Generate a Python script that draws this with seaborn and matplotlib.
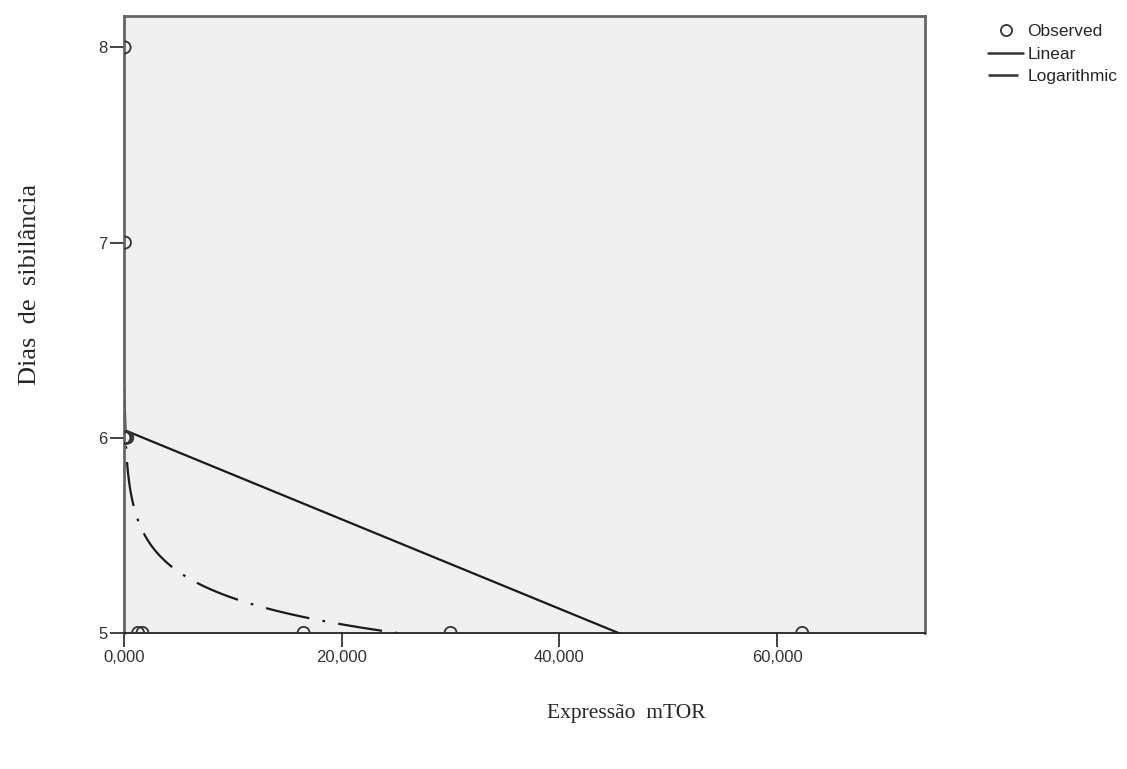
import numpy as np
import pandas as pd
import seaborn as sns
import matplotlib.pyplot as plt
from matplotlib.lines import Line2D

# observed points (Expressão mTOR, Dias de sibilância)
obs_x = [60, 90, 40, 150, 300, 1300, 1700, 16500, 30000, 62300]
obs_y = [8, 7, 6, 6, 6, 5, 5, 5, 5, 5]

# fitted models
lin_coef = [6.04, -1.04 / 45400]       # y = a + b*x
log_coef = [6.971, -0.1946]            # y = a + b*ln(x)

x_ticks = [0, 20000, 40000, 60000]
x_tick_labels = ['0,000', '20,000', '40,000', '60,000']
y_ticks = [5, 6, 7, 8]

sns.set_style('white')
plt.rcParams['font.family'] = ['Liberation Sans', 'DejaVu Sans']

df = pd.DataFrame({'x': obs_x, 'y': obs_y})
xs = np.linspace(min(obs_x), max(obs_x), 600)
fit_df = pd.DataFrame({
    'x': xs,
    'lin': lin_coef[0] + lin_coef[1] * xs,
    'log': log_coef[0] + log_coef[1] * np.log(xs),
})

fig = plt.figure(figsize=(11.27, 7.69), dpi=100)
ax = fig.add_axes([0.110, 0.177, 0.711, 0.802])
ax.set_facecolor('#f0f0f0')

dash_dot = (0, (20, 6, 1.2, 6))
sns.lineplot(data=fit_df, x='x', y='lin', ax=ax, color='#1a1a1a', lw=1.6)
sns.lineplot(data=fit_df, x='x', y='log', ax=ax, color='#1a1a1a', lw=1.6,
             dashes=False, linestyle=dash_dot)
sns.scatterplot(data=df, x='x', y='y', ax=ax, marker='o', s=75,
                facecolor='none', edgecolor='#333333', linewidth=1.3, zorder=5)

ax.set_xlim(0, 73600)
ax.set_ylim(5, 8.16)
ax.set_xticks(x_ticks)
ax.set_xticklabels(x_tick_labels)
ax.set_yticks(y_ticks)
ax.tick_params(axis='both', bottom=True, left=True, direction='out', length=10,
               width=1.3, color='#333333', labelsize=12, labelcolor='#333333', pad=2)
for s in ax.spines.values():
    s.set_color('#666666')
    s.set_linewidth(2)
ax.spines['bottom'].set_color('#222222')
ax.spines['bottom'].set_linewidth(1.3)

ax.set_xlabel('Expressão  mTOR', family='Liberation Serif', fontsize=15.5)
ax.set_ylabel('Dias  de  sibilância', family='Liberation Serif', fontsize=19)
ax.xaxis.set_label_coords(0.627, -0.115)
ax.yaxis.set_label_coords(-0.104, 0.565)

handles = [
    Line2D([], [], marker='o', ls='none', mfc='none', mec='#333333', mew=1.3, ms=8),
    Line2D([], [], color='#333333', lw=1.8),
    Line2D([], [], color='#333333', lw=1.8, linestyle=(0, (12, 3, 1, 3))),
]
ax.legend(handles, ['Observed', 'Linear', 'Logarithmic'], loc='upper left',
          bbox_to_anchor=(1.07, 0.998), frameon=False, fontsize=12.5,
          handlelength=2.0, handletextpad=0.25, labelspacing=0.42,
          borderaxespad=0)

plt.savefig('out.png', dpi=100)
